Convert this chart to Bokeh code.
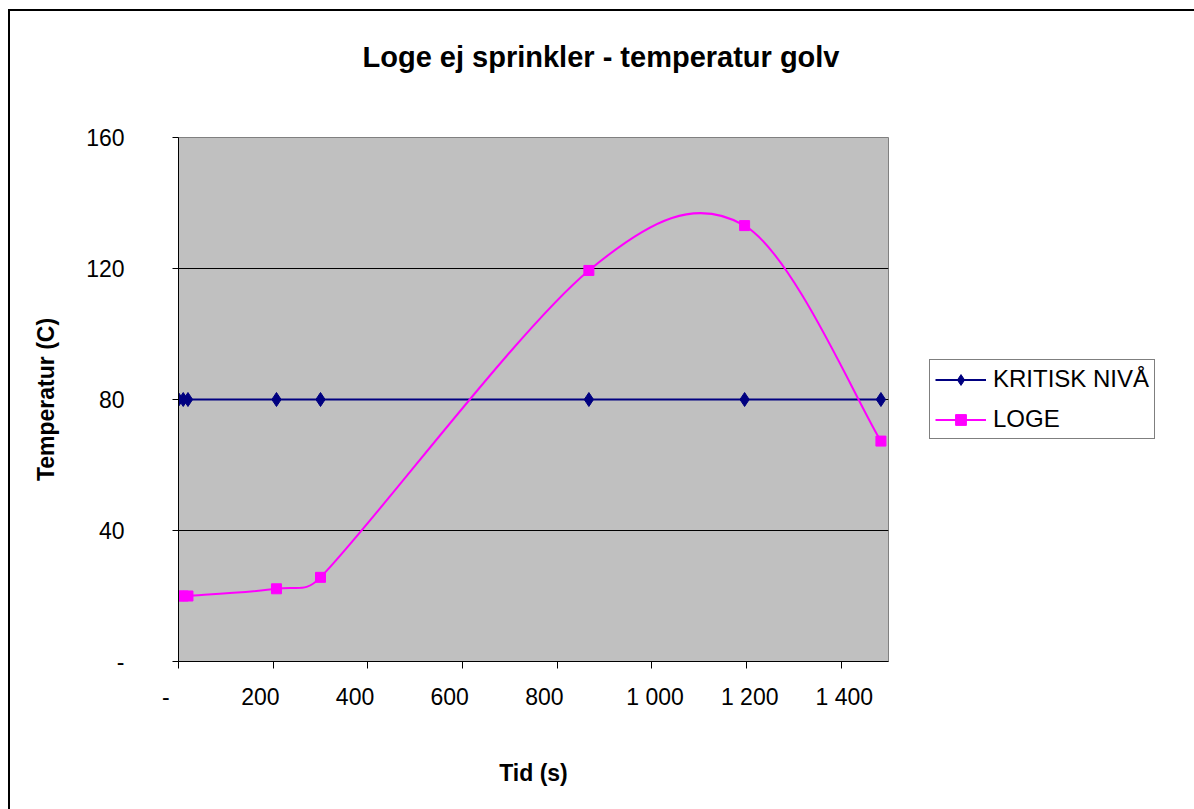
import math

from bokeh.embed import file_html
from bokeh.models import (ColumnDataSource, FixedTicker, Legend, LegendItem,
                          Range1d, Title)
from bokeh.plotting import figure
from bokeh.resources import INLINE

# --- data -------------------------------------------------------------
time_s = [0, 10, 20, 207, 300, 867, 1196, 1484]
kritisk_niva = [80, 80, 80, 80, 80, 80, 80, 80]
loge = [20, 20, 20, 22.2, 25.7, 119.4, 133.1, 67.3]

x_tick_values = [0, 200, 400, 600, 800, 1000, 1200, 1400]
x_tick_labels = ["-", "200", "400", "600", "800", "1 000", "1 200", "1 400"]
y_tick_values = [0, 40, 80, 120, 160]
y_tick_labels = ["-", "40", "80", "120", "160"]

X_MAX, Y_MAX = 1500, 160
FRAME_W, FRAME_H = 710, 524

FONT = "Liberation Sans"
NAVY = "#000080"
MAGENTA = "#FF00FF"
NBSP = "\u00a0"


def accounting_label(v, text):
    """Accounting number format pads short numbers on the right and
    thousands on the left, which nudges the label off its tick."""
    if v < 1000:
        return text + NBSP * 4
    return NBSP + text


def smooth_segments(xs, ys, kx, ky):
    """Bezier control points for a spreadsheet-style smoothed line.

    Tangents are 1/6 of the neighbour chord, capped at half the segment
    length; distances are measured in screen pixels (kx, ky px per unit)."""
    n = len(xs)
    px = [x * kx for x in xs]
    py = [y * ky for y in ys]

    def dist(a, b):
        return math.hypot(px[a] - px[b], py[a] - py[b])

    out = dict(x0=[], y0=[], x1=[], y1=[], cx0=[], cy0=[], cx1=[], cy1=[])
    for i in range(n - 1):
        i0 = max(i - 1, 0)
        i1, i2 = i, i + 1
        i3 = min(i + 2, n - 1)
        d12 = dist(i1, i2)
        d02 = dist(i0, i2)
        d13 = dist(i1, i3)
        f0 = f3 = 1.0 / 6.0
        if d02 > 0 and d02 / 6 >= d12 / 2:
            f0 = d12 / d02 / 2
        if d13 > 0 and d13 / 6 >= d12 / 2:
            f3 = d12 / d13 / 2
        c0x = px[i1] + f0 * (px[i2] - px[i0])
        c0y = py[i1] + f0 * (py[i2] - py[i0])
        c1x = px[i2] - f3 * (px[i3] - px[i1])
        c1y = py[i2] - f3 * (py[i3] - py[i1])
        out["x0"].append(xs[i1])
        out["y0"].append(ys[i1])
        out["x1"].append(xs[i2])
        out["y1"].append(ys[i2])
        out["cx0"].append(c0x / kx)
        out["cy0"].append(c0y / ky)
        out["cx1"].append(c1x / kx)
        out["cy1"].append(c1y / ky)
    return out


p = figure(
    title=None,
    frame_width=FRAME_W, frame_height=FRAME_H,
    x_range=Range1d(0, X_MAX), y_range=Range1d(0, Y_MAX),
    output_backend="svg", toolbar_location=None,
    min_border_left=168, min_border_right=306,
    min_border_top=126, min_border_bottom=148,
    background_fill_color="#C0C0C0", border_fill_color="white",
)
p.styles = {
    "margin-left": "8px", "margin-top": "9px",
    "border-left": "2px solid #000000", "border-top": "2px solid #000000",
}
p.outline_line_color = "#808080"
p.outline_line_width = 1

# a blank spacer next to the plot area, then the title above it
p.add_layout(Title(text=NBSP, text_font_size="2px", standoff=56), "above")
p.add_layout(Title(
    text="Loge ej sprinkler - temperatur golv",
    text_font=FONT, text_font_size="29px", text_font_style="bold",
    text_color="black", align="left", offset=184, standoff=10,
), "above")

# grid
p.xgrid.visible = False
p.ygrid.ticker = FixedTicker(ticks=[40, 80, 120])
p.ygrid.grid_line_color = "black"
p.ygrid.grid_line_width = 1

# y axis
yax = p.yaxis[0]
yax.ticker = FixedTicker(ticks=y_tick_values)
yax.major_label_overrides = {v: t for v, t in zip(y_tick_values, y_tick_labels)}
yax.major_tick_in = 0
yax.major_tick_out = 6
yax.minor_tick_line_color = None
yax.major_label_standoff = 48
yax.major_label_text_font = FONT
yax.major_label_text_font_size = "23px"
yax.major_label_text_color = "black"
yax.axis_line_color = "black"
yax.major_tick_line_color = "black"
yax.axis_label = "Temperatur (C)"
yax.axis_label_text_font = FONT
yax.axis_label_text_font_size = "23px"
yax.axis_label_text_font_style = "bold"
yax.axis_label_text_color = "black"
yax.axis_label_standoff = 24

# x axis
xax = p.xaxis[0]
xax.ticker = FixedTicker(ticks=x_tick_values)
xax.major_label_overrides = {
    v: accounting_label(v, t) for v, t in zip(x_tick_values, x_tick_labels)
}
xax.major_tick_in = 0
xax.major_tick_out = 7
xax.major_tick_line_color = "black"
xax.minor_tick_line_color = None
xax.major_label_standoff = 15
xax.major_label_text_font = FONT
xax.major_label_text_font_size = "23px"
xax.major_label_text_color = "black"
xax.axis_line_color = "black"
xax.axis_label = "Tid (s)"
xax.axis_label_text_font = FONT
xax.axis_label_text_font_size = "23px"
xax.axis_label_text_font_style = "bold"
xax.axis_label_text_color = "black"
xax.axis_label_standoff = 47

# series
kx, ky = FRAME_W / X_MAX, FRAME_H / Y_MAX

k_line = p.line(time_s, kritisk_niva, line_color=NAVY, line_width=1.8)
k_mark = p.scatter(time_s, kritisk_niva, marker="diamond", size=14,
                   fill_color=NAVY, line_color=NAVY)

bez = ColumnDataSource(smooth_segments(time_s, loge, kx, ky))
l_line = p.bezier(x0="x0", y0="y0", x1="x1", y1="y1",
                  cx0="cx0", cy0="cy0", cx1="cx1", cy1="cy1",
                  source=bez, line_color=MAGENTA, line_width=2)
l_mark = p.scatter(time_s, loge, marker="square", size=10,
                   fill_color=MAGENTA, line_color=MAGENTA)

legend = Legend(
    items=[
        LegendItem(label="KRITISK NIVÅ", renderers=[k_line, k_mark]),
        LegendItem(label="LOGE", renderers=[l_line, l_mark]),
    ],
    location="center_left",
    orientation="vertical",
    border_line_color="black", border_line_width=1,
    background_fill_color="white", background_fill_alpha=1,
    label_text_font=FONT, label_text_font_size="24px",
    label_text_color="black",
    glyph_width=51, glyph_height=27, label_height=27,
    label_standoff=7, padding=5, spacing=12, margin=41,
)
p.add_layout(legend, "right")

open("out.html", "w").write(file_html(p, INLINE))
